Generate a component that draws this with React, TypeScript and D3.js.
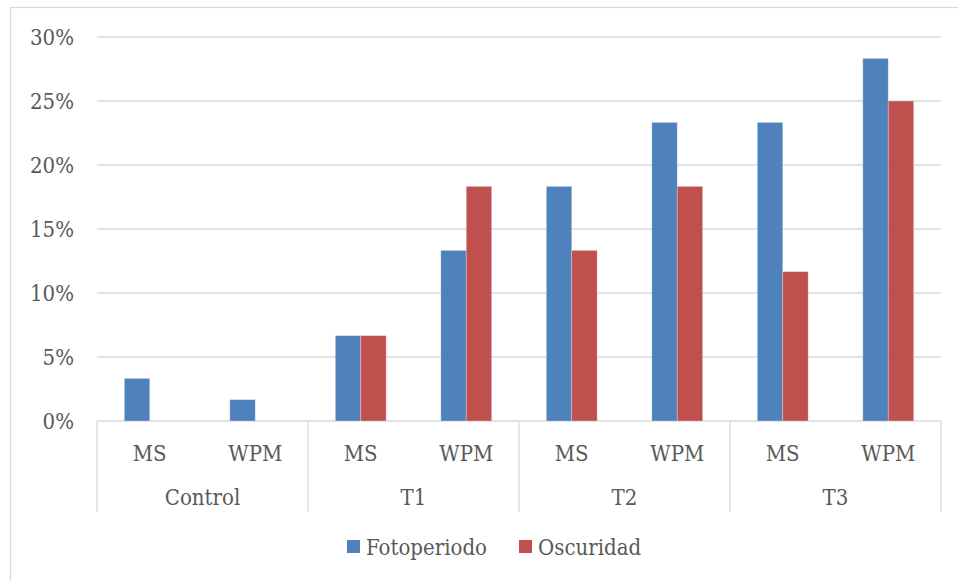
import React from "react";
import * as d3 from "d3";

const groups = ["Control", "T1", "T2", "T3"];
const subs = ["MS", "WPM"];
const seriesNames = ["Fotoperiodo", "Oscuridad"];
const seriesColors = ["#4F81BD", "#C0504D"];
// values in % per (group, sub) in order: Control MS, Control WPM, T1 MS, T1 WPM, ...
const fotoperiodo = [3.33, 1.67, 6.67, 13.33, 18.33, 23.33, 23.33, 28.33];
const oscuridad = [0, 0, 6.67, 18.33, 13.33, 18.33, 11.67, 25.0];
const yTicks = [0, 5, 10, 15, 20, 25, 30];

const W = 958;
const H = 581;
const FONT = "'DejaVu Serif Condensed', 'DejaVu Serif', serif";
const FS = 22;
const TXT = "#595959";
const GRID = "#d9d9d9";

export default function App() {
  const left = 97, right = 941, top = 37, bottom = 421;
  const y = d3.scaleLinear().domain([0, 30]).range([bottom, top]);
  const gx = d3.scaleBand<string>().domain(groups).range([left, right]).padding(0);
  const keys = groups.flatMap((g) => subs.map((s) => g + "|" + s));
  const sx = d3.scaleBand<string>().domain(keys).range([left, right]).padding(0);
  const bw = sx.bandwidth() * 0.241;
  const bx = d3.scaleBand<string>().domain(seriesNames).range([-bw, bw]).padding(0);
  const series = [fotoperiodo, oscuridad];
  const txt = { fontFamily: FONT, fontSize: FS, fill: TXT, fontStretch: "condensed" } as React.CSSProperties;

  return (
    <svg width={W} height={H} style={{ position: "absolute", left: 0, top: 0 }}>
      <rect x={0} y={0} width={W} height={H} fill="#fff" />
      <rect x={10.5} y={7.5} width={W + 20} height={H + 20} fill="none" stroke={GRID} strokeWidth={1.3} />
      {yTicks.map((t) => (
        <g key={t}>
          <line x1={left} x2={right} y1={y(t)} y2={y(t)} stroke={GRID} strokeWidth={1.3} />
          <text x={74} y={y(t)} dy="0.36em" textAnchor="end" style={txt}>
            {t + "%"}
          </text>
        </g>
      ))}
      {[...groups.map((g) => gx(g)!), right].map((x, i) => (
        <line key={i} x1={x} x2={x} y1={bottom} y2={512} stroke={GRID} strokeWidth={1.3} />
      ))}
      {keys.map((k, i) =>
        series.map((vals, si) => {
          const cx = sx(k)! + sx.bandwidth() / 2;
          const v = vals[i];
          if (!v) return null;
          return (
            <rect
              key={k + si}
              x={cx + bx(seriesNames[si])!}
              y={y(v)}
              width={bx.bandwidth()}
              height={bottom - y(v)}
              fill={seriesColors[si]}
              stroke="#ffffff"
              strokeOpacity={0.35}
              strokeWidth={0.8}
            />
          );
        })
      )}
      {keys.map((k) => (
        <text key={k} x={sx(k)! + sx.bandwidth() / 2} y={461} textAnchor="middle" style={txt}>
          {k.split("|")[1]}
        </text>
      ))}
      {groups.map((g) => (
        <text key={g} x={gx(g)! + gx.bandwidth() / 2} y={505} textAnchor="middle" style={txt}>
          {g}
        </text>
      ))}
      {seriesNames.map((s, i) => {
        const lx = i === 0 ? 347 : 519;
        return (
          <g key={s}>
            <rect x={lx} y={540} width={13} height={13} fill={seriesColors[i]} />
            <text x={lx + 19} y={555} style={txt}>
              {s}
            </text>
          </g>
        );
      })}
    </svg>
  );
}
